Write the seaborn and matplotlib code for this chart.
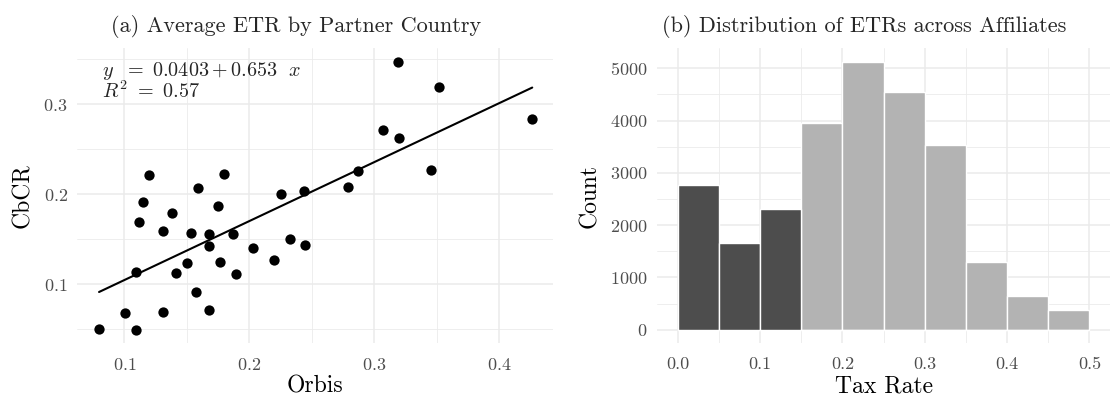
import numpy as np
import pandas as pd
import matplotlib
matplotlib.use("Agg")
import matplotlib.pyplot as plt
from matplotlib.ticker import MultipleLocator
import seaborn as sns

# ---- data: panel (a) ----
orbis = [0.0798, 0.1008, 0.1094, 0.1091, 0.1115, 0.1150, 0.1198, 0.1307, 0.1307,
         0.1384, 0.1416, 0.1504, 0.1531, 0.1576, 0.1592, 0.1675, 0.1680, 0.1680,
         0.1752, 0.1766, 0.1795, 0.1870, 0.1894, 0.2032, 0.2195, 0.2256, 0.2326,
         0.3190, 0.3520, 0.4264, 0.3072, 0.3198, 0.3456, 0.2870, 0.2790, 0.2438,
         0.2443]
cbcr = [0.0506, 0.0680, 0.0498, 0.1139, 0.1698, 0.1913, 0.2213, 0.0694, 0.1594,
        0.1791, 0.1131, 0.1242, 0.1576, 0.0913, 0.2069, 0.1428, 0.1561, 0.0717,
        0.1872, 0.1250, 0.2228, 0.1564, 0.1113, 0.1409, 0.1272, 0.2002, 0.1502,
        0.3476, 0.3198, 0.2839, 0.2717, 0.2631, 0.2276, 0.2260, 0.2087, 0.2042,
        0.1442]
eq_text = r"$y\ \ =\ 0.0403 + 0.653\ \ x$"
r2_text = r"$R^2\ =\ 0.57$"

# ---- data: panel (b) ----
bin_edges = [0.0, 0.05, 0.10, 0.15, 0.20, 0.25, 0.30, 0.35, 0.40, 0.45, 0.50]
counts = [2770, 1660, 2300, 3950, 5130, 4550, 3530, 1290, 640, 370]
group = ["low", "low", "low", "high", "high", "high", "high", "high", "high", "high"]

sns.set_theme(style="white")
plt.rcParams["font.family"] = ["cmr10", "DejaVu Serif"]
plt.rcParams["mathtext.fontset"] = "cm"
plt.rcParams["axes.formatter.use_mathtext"] = True
plt.rcParams["axes.unicode_minus"] = False

W, H = 1114, 398
fig = plt.figure(figsize=(W / 100, H / 100), dpi=100)
ax1 = fig.add_axes([0.0695, 0.138, 0.4269, 0.741])
ax2 = fig.add_axes([0.5898, 0.138, 0.4066, 0.741])

grid_c = "#EBEBEB"
tick_c = "#4D4D4D"

def style(ax):
    for s in ax.spines.values():
        s.set_visible(False)
    ax.grid(which="major", color=grid_c, linewidth=1.1, zorder=0)
    ax.grid(which="minor", color=grid_c, linewidth=0.6, zorder=0)
    ax.set_axisbelow(True)
    ax.tick_params(which="both", length=0, labelsize=13, colors=tick_c, pad=7)
    ax.tick_params(axis="x", which="both", pad=10)

# panel (a)
dfa = pd.DataFrame({"Orbis": orbis, "CbCR": cbcr})
sns.regplot(data=dfa, x="Orbis", y="CbCR", ax=ax1, ci=None, truncate=True,
            scatter_kws=dict(s=55, color="black", alpha=1, linewidths=0, zorder=3),
            line_kws=dict(color="black", linewidth=1.5, zorder=2))
ax1.set_xlim(0.0625, 0.443)
ax1.set_ylim(0.0349, 0.3625)
ax1.xaxis.set_major_locator(MultipleLocator(0.1))
ax1.xaxis.set_minor_locator(MultipleLocator(0.05))
ax1.yaxis.set_major_locator(MultipleLocator(0.1))
ax1.yaxis.set_minor_locator(MultipleLocator(0.05))
style(ax1)
ax1.set_xlabel("Orbis", fontsize=17, color="black", labelpad=2)
ax1.set_ylabel("CbCR", fontsize=17, color="black", labelpad=7)
fig.text(296 / W, 1 - 32 / H, "(a) Average ETR by Partner Country", fontsize=16,
         ha="center", va="baseline")
ax1.text(0.051, 0.906, eq_text, transform=ax1.transAxes, fontsize=14.5,
         ha="left", va="baseline")
ax1.text(0.051, 0.830, r2_text, transform=ax1.transAxes, fontsize=14.5,
         ha="left", va="baseline")

# panel (b)
centers = [(bin_edges[i] + bin_edges[i + 1]) / 2 for i in range(len(counts))]
dfb = pd.DataFrame({"rate": centers, "count": counts, "group": group})
sns.histplot(data=dfb, x="rate", weights="count", hue="group", bins=bin_edges,
             palette={"low": "#4D4D4D", "high": "#B3B3B3"}, alpha=1,
             edgecolor="white", linewidth=1.0, legend=False, ax=ax2, zorder=2)
ax2.set_xlim(-0.025, 0.525)
ax2.set_ylim(-256.5, 5386.5)
ax2.xaxis.set_major_locator(MultipleLocator(0.1))
ax2.xaxis.set_minor_locator(MultipleLocator(0.05))
ax2.yaxis.set_major_locator(MultipleLocator(1000))
ax2.yaxis.set_minor_locator(MultipleLocator(500))
ax2.xaxis.set_major_formatter(matplotlib.ticker.FormatStrFormatter("%.1f"))
style(ax2)
ax2.set_xlabel("Tax Rate", fontsize=17, color="black", labelpad=2)
ax2.set_ylabel("Count", fontsize=17, color="black", labelpad=6)
fig.text(864 / W, 1 - 32 / H, "(b) Distribution of ETRs across Affiliates",
         fontsize=16, ha="center", va="baseline")

fig.savefig("out.png", dpi=100)
